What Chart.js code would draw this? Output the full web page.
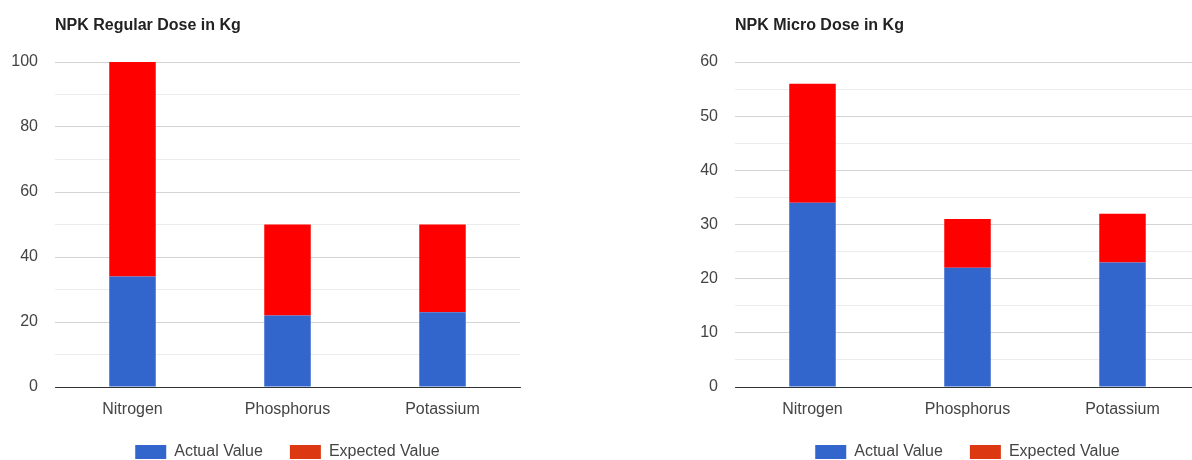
<!DOCTYPE html>
<html>
<head>
<meta charset="utf-8">
<title>NPK Dose</title>
<script src="https://cdn.jsdelivr.net/npm/chart.js@4/dist/chart.umd.min.js"></script>
<style>
  html, body { margin: 0; padding: 0; background: #fff; overflow: hidden; }
  body { width: 1192px; height: 460px; position: relative; }
  .box { position: absolute; top: 0; width: 575px; height: 470px; }
  #boxRegular { left: 0; }
  #boxMicro { left: 680px; }
</style>
</head>
<body>
<div class="box" id="boxRegular"><canvas id="chartRegular"></canvas></div>
<div class="box" id="boxMicro"><canvas id="chartMicro"></canvas></div>
<script>
// categories
const nutrients = ['Nitrogen', 'Phosphorus', 'Potassium'];
const seriesNames = ['Actual Value', 'Expected Value'];

// regular dose (kg)
const regularActual = [34, 22, 23];
const regularExpected = [66, 28, 27];
const regularMax = 100;
const regularStep = 10;
const regularLabelEvery = 20;

// micro dose (kg)
const microActual = [34, 22, 23];
const microExpected = [22, 9, 9];
const microMax = 60;
const microStep = 5;
const microLabelEvery = 10;

const FONT = "Arial, 'Liberation Sans', sans-serif";
const BLUE = '#3366cc';
const RED = '#ff0000';
const LEGEND_RED = '#dc3912';

// draws the title over the left edge of the plot
const titlePlugin = {
  id: 'plotTitle',
  afterDraw(chart, args, opts) {
    const ctx = chart.ctx;
    ctx.save();
    ctx.font = 'bold 16px ' + FONT;
    ctx.fillStyle = '#222';
    ctx.textBaseline = 'middle';
    ctx.textAlign = 'left';
    ctx.fillText(opts.text, chart.chartArea.left, 26);
    ctx.restore();
  }
};

function createChart(elementId, title, actual, expected, max, step, labelEvery) {
  const canvas = document.getElementById(elementId);
  return new Chart(canvas, {
    type: 'bar',
    data: {
      labels: nutrients,
      datasets: [
        { label: seriesNames[0], data: actual, backgroundColor: BLUE },
        { label: seriesNames[1], data: expected, backgroundColor: RED }
      ]
    },
    options: {
      responsive: true,
      maintainAspectRatio: false,
      animation: false,
      datasets: { bar: { barPercentage: 0.3, categoryPercentage: 1 } },
      layout: { padding: { top: 62, left: 0, right: 0, bottom: 0 } },
      plugins: {
        plotTitle: { text: title },
        tooltip: { enabled: false },
        legend: {
          position: 'bottom',
          labels: {
            boxWidth: 31,
            boxHeight: 14,
            padding: 27,
            color: '#444',
            font: { family: FONT, size: 16 },
            // legend swatch of the second series is the default orange-red
            generateLabels(chart) {
              const items = Chart.defaults.plugins.legend.labels.generateLabels(chart);
              items.forEach((it, i) => {
                it.fillStyle = i === 0 ? BLUE : LEGEND_RED;
                it.strokeStyle = 'transparent';
                it.lineWidth = 0;
              });
              return items;
            }
          }
        }
      },
      scales: {
        x: {
          stacked: true,
          grid: { display: false },
          border: { display: true, color: '#333', width: 1 },
          ticks: { color: '#444', padding: 5, font: { family: FONT, size: 16 } },
          afterFit(scale) { scale.height = 30; }
        },
        y: {
          stacked: true,
          min: 0,
          max: max,
          border: { display: false },
          grid: {
            drawTicks: false,
            color(c) {
              const v = c.tick.value;
              if (v === 0) return '#333';
              return v % labelEvery === 0 ? '#d4d4d4' : '#ececec';
            }
          },
          ticks: {
            stepSize: step,
            padding: 17,
            color: '#444',
            font: { family: FONT, size: 16 },
            callback: v => (v % labelEvery === 0 ? v : '')
          },
          afterFit(scale) { scale.width = 55; }
        },
        // empty axis on the right so the legend centres under the plot
        yPad: {
          type: 'linear',
          position: 'right',
          grid: { display: false },
          border: { display: false },
          ticks: { display: false },
          afterFit(scale) { scale.width = 55; }
        }
      }
    },
    plugins: [titlePlugin]
  });
}

createChart('chartRegular', 'NPK Regular Dose in Kg', regularActual, regularExpected,
  regularMax, regularStep, regularLabelEvery);
createChart('chartMicro', 'NPK Micro Dose in Kg', microActual, microExpected,
  microMax, microStep, microLabelEvery);
</script>
</body>
</html>
